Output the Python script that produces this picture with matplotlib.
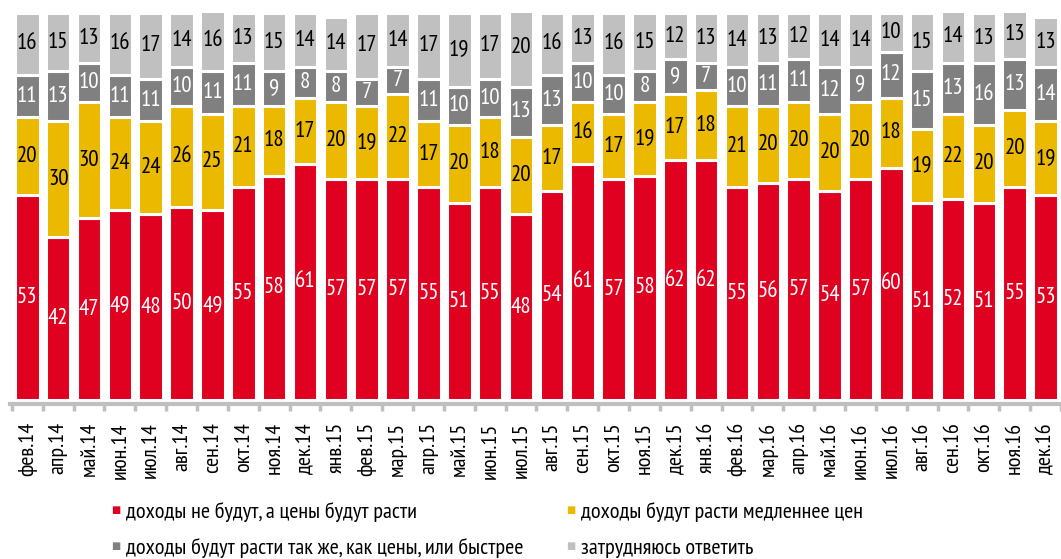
import numpy as np
import matplotlib
matplotlib.use("Agg")
import matplotlib.pyplot as plt

plt.rcParams['font.family'] = ['PT Sans Narrow', 'DejaVu Sans']

months = ['фев.14', 'апр.14', 'май.14', 'июн.14', 'июл.14', 'авг.14', 'сен.14', 'окт.14',
          'ноя.14', 'дек.14', 'янв.15', 'фев.15', 'мар.15', 'апр.15', 'май.15', 'июн.15',
          'июл.15', 'авг.15', 'сен.15', 'окт.15', 'ноя.15', 'дек.15', 'янв.16', 'фев.16',
          'мар.16', 'апр.16', 'май.16', 'июн.16', 'июл.16', 'авг.16', 'сен.16', 'окт.16',
          'ноя.16', 'дек.16']
no_income = [53, 42, 47, 49, 48, 50, 49, 55, 58, 61, 57, 57, 57, 55, 51, 55, 48, 54, 61, 57,
             58, 62, 62, 55, 56, 57, 54, 57, 60, 51, 52, 51, 55, 53]
slower = [20, 30, 30, 24, 24, 26, 25, 21, 18, 17, 20, 19, 22, 17, 20, 18, 20, 17, 16, 17,
          19, 17, 18, 21, 20, 20, 20, 20, 18, 19, 22, 20, 20, 19]
same_faster = [11, 13, 10, 11, 11, 10, 11, 11, 9, 8, 8, 7, 7, 11, 10, 10, 13, 13, 10, 10,
               8, 9, 7, 10, 11, 11, 12, 9, 12, 15, 13, 16, 13, 14]
dont_know = [16, 15, 13, 16, 17, 14, 16, 13, 15, 14, 14, 17, 14, 17, 19, 17, 20, 16, 13, 16,
             15, 12, 13, 14, 13, 12, 14, 14, 10, 15, 14, 13, 13, 13]

series = [
    ('доходы не будут, а цены будут расти', no_income, '#e00020', 'white'),
    ('доходы будут расти медленнее цен', slower, '#eab900', 'black'),
    ('доходы будут расти так же, как цены, или быстрее', same_faster, '#808080', 'white'),
    ('затрудняюсь ответить', dont_know, '#c0c0c0', 'black'),
]

fig = plt.figure(figsize=(10.61, 5.59), dpi=100)
ax = fig.add_axes([10 / 1061, 1 - 400 / 559, 1051 / 1061, 387 / 559])

x = np.arange(len(months))
bottom = np.zeros(len(months))
for name, vals, col, tcol in series:
    vals = np.array(vals, dtype=float)
    ax.bar(x, vals, bottom=bottom, width=0.8, color=col, edgecolor='white', linewidth=2.2)
    for xi, b, v in zip(x, bottom, vals):
        ax.text(xi, b + v / 2, f'{int(v)}', ha='center', va='center', color=tcol, fontsize=16.5)
    bottom += vals

ax.set_xlim(-0.56, 33.13)
ax.set_ylim(0, 100)
for s in ['top', 'right', 'left']:
    ax.spines[s].set_visible(False)
ax.spines['bottom'].set_position(('outward', 3))
ax.spines['bottom'].set_color('#bfbfbf')
ax.spines['bottom'].set_linewidth(3)
ax.set_yticks([])
ax.set_xticks(x)
ax.set_xticklabels(months, rotation=90, fontsize=16)
ax.tick_params(axis='x', which='major', length=0, pad=13)
ax.set_xticks(np.arange(len(months) + 1) - 0.5, minor=True)
ax.tick_params(axis='x', which='minor', length=5, width=2.5, color='#bfbfbf')

# legend, two columns
leg_pos = [(111, 512), (566, 512), (111, 548), (566, 548)]
for (name, vals, col, tcol), (px, py) in zip(series, leg_pos):
    fig.text(px / 1061, 1 - (py - 2) / 559, '■', color=col, fontsize=7, ha='left', va='center',
             family='DejaVu Sans')
    fig.text((px + 15) / 1061, 1 - py / 559, name, fontsize=16, ha='left', va='center')

fig.savefig('out.png', dpi=100)
